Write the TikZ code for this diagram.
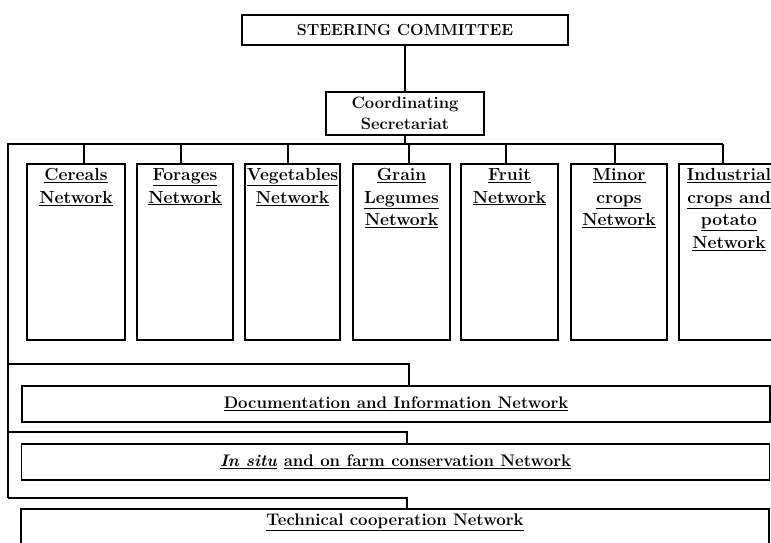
\documentclass[tikz,border=0pt]{standalone}
\begin{document}
\begin{tikzpicture}[x=1pt,y=-1pt]
\tikzset{
  ln/.style={line width=1.2pt},
  box/.style={draw, line width=1.2pt, rectangle, inner sep=0pt},
  netbox/.style={box, minimum height=176pt, minimum width=#1},
  netlab/.style={anchor=north, inner sep=0pt, align=center, yshift=-5pt,
    font=\fontsize{17.5}{22.5}\selectfont\bfseries},
  widebox/.style={box, minimum width=748pt, minimum height=36pt,
    font=\fontsize{16.8}{19}\selectfont\bfseries},
}
\useasboundingbox (0,0) rectangle (771,543);
\clip (0,0) rectangle (771,543);

\node[box, minimum width=326pt, minimum height=30pt,
  font=\fontsize{16}{19}\selectfont\bfseries] (steer) at (405,30) {STEERING COMMITTEE};
\node[box, minimum width=158pt, minimum height=43pt, align=center,
  font=\fontsize{16.5}{20.5}\selectfont\bfseries] (coord) at (405,113.5) {Coordinating\\Secretariat};

% network boxes
\node[netbox=98pt] (cer) at (76,252) {};
\node[netbox=96pt] (for) at (185,252) {};
\node[netbox=95pt] (veg) at (292.5,252) {};
\node[netbox=97pt] (gra) at (401.5,252) {};
\node[netbox=97pt] (fru) at (509.5,252) {};
\node[netbox=96pt] (min) at (619,252) {};
\node[netbox=100pt] (ind) at (729,252) {};

\node[netlab] (cerT) at (cer.north) {\underline{Cereals}\\\underline{Network}};
\node[netlab] (forT) at (for.north) {\underline{Forages}\\\underline{Network}};
\node[netlab] (vegT) at (veg.north) {\underline{Vegetables}\\\underline{Network}};
\node[netlab] (graT) at (gra.north) {\underline{Grain}\\\underline{Legumes}\\\underline{Network}};
\node[netlab] (fruT) at (fru.north) {\underline{Fruit}\\\underline{Network}};
\node[netlab] (minT) at (min.north) {\underline{Minor}\\\underline{crops}\\\underline{Network}};
\node[netlab] (indT) at (ind.north) {\underline{Industrial}\\\underline{crops and}\\\underline{potato}\\\underline{Network}};

% horizontal networks
\node[widebox] (doc) at (396,404) {\underline{Documentation and Information Network}};
\node[widebox] (situ) at (395.5,462) {\underline{\textit{In situ}} \underline{and on farm conservation Network}};
\node[box, minimum width=748pt, minimum height=52pt] (tech) at (395,535) {};
\node[anchor=north, inner sep=0pt, yshift=-5pt,
  font=\fontsize{16.8}{19}\selectfont\bfseries] (techT) at (tech.north) {\underline{Technical cooperation Network}};

% connectors
\coordinate (busL) at (8,144);
\coordinate (busR) at (723,144);
\coordinate (l1) at (8,364);
\coordinate (l2) at (8,432);
\coordinate (l3) at (8,498);

\draw[ln] (steer.south) -- (coord.north);
\draw[ln] (coord.south) -- (coord.south |- busL);
\draw[ln] (busR) -- (busL) -- (l3);
\draw[ln] ([xshift=8pt]cer.north) -- ([xshift=8pt]cer.north |- busL);
\draw[ln] ([xshift=-4pt]for.north) -- ([xshift=-4pt]for.north |- busL);
\draw[ln] ([xshift=-4.5pt]veg.north) -- ([xshift=-4.5pt]veg.north |- busL);
\draw[ln] ([xshift=7.5pt]gra.north) -- ([xshift=7.5pt]gra.north |- busL);
\draw[ln] ([xshift=-3.5pt]fru.north) -- ([xshift=-3.5pt]fru.north |- busL);
\draw[ln] ([xshift=-4pt]min.north) -- ([xshift=-4pt]min.north |- busL);
\draw[ln] ([xshift=-6pt]ind.north) -- ([xshift=-6pt]ind.north |- busL);

\draw[ln] (l1) -| ([xshift=13pt]doc.north);
\draw[ln] (l2) -| ([xshift=11.5pt]situ.north);
\draw[ln] (l3) -| ([xshift=12pt]tech.north);
\end{tikzpicture}
\end{document}
